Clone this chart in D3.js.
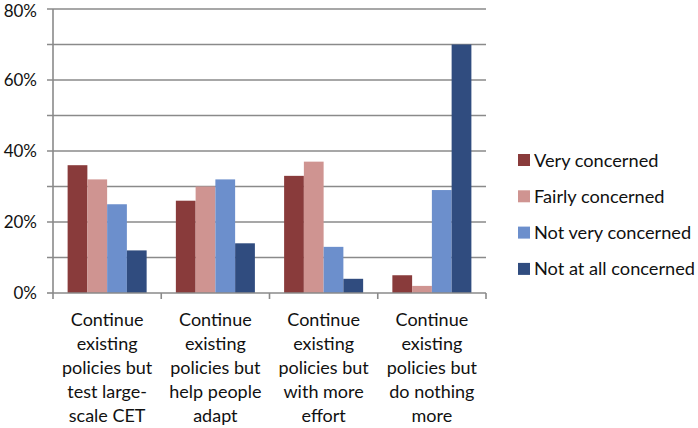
<!DOCTYPE html>
<html><head><meta charset="utf-8">
<script src="https://cdnjs.cloudflare.com/ajax/libs/d3/7.8.5/d3.min.js"></script>
<style>body{margin:0;background:#fff;}svg{display:block;}text{font-family:Lato,"Open Sans",sans-serif;fill:#111;}</style>
</head><body><svg id="c" width="698" height="428"></svg>
<script>
const categories = [
  ["Continue","existing","policies but","test large-","scale CET"],
  ["Continue","existing","policies but","help people","adapt"],
  ["Continue","existing","policies but","with more","effort"],
  ["Continue","existing","policies but","do nothing","more"]
];
const seriesNames = ["Very concerned","Fairly concerned","Not very concerned","Not at all concerned"];
const veryConcerned = [36, 26, 33, 5];
const fairlyConcerned = [32, 30, 37, 2];
const notVeryConcerned = [25, 32, 13, 29];
const notAtAllConcerned = [12, 14, 4, 70];
const yTicks = [0, 20, 40, 60, 80];
const colors = ["#893b3b","#cf9491","#6c8fcc","#304c7f"];

const series = [veryConcerned, fairlyConcerned, notVeryConcerned, notAtAllConcerned];
const svg = d3.select("#c");
const L = 53, R = 486, T = 9, B = 293;
const idx = d3.range(categories.length);
const x0 = d3.scaleBand().domain(idx).range([L, R]).paddingInner(0.27).paddingOuter(0.135);
const x1 = d3.scaleBand().domain(d3.range(series.length)).range([0, x0.bandwidth()]);
const y = d3.scaleLinear().domain([0, 80]).range([B, T]);

// gridlines every 10%
const grid = d3.range(10, 81, 10);
svg.append("g").selectAll("line").data(grid).join("line")
  .attr("x1", L - 6).attr("x2", R).attr("y1", d => y(d)).attr("y2", d => y(d))
  .attr("stroke", "#8a8a8a").attr("stroke-width", 1.6);

// bars
const g = svg.append("g");
idx.forEach(i => {
  series.forEach((s, j) => {
    g.append("rect")
      .attr("x", x0(i) + x1(j)).attr("width", x1.bandwidth())
      .attr("y", y(s[i])).attr("height", B - y(s[i]))
      .attr("fill", colors[j]);
  });
});

// y axis
const ya = d3.axisLeft(y).tickValues(yTicks).tickFormat(d => d + "%").tickSize(0).tickPadding(16);
const yg = svg.append("g").attr("transform", `translate(${L},0)`).call(ya);
yg.select(".domain").remove();
yg.selectAll("text").style("font-size", "17px").attr("fill", "#111")
  .attr("dy", d => d === 80 ? "0.45em" : "0.32em");
svg.append("line").attr("x1", L).attr("x2", L).attr("y1", T).attr("y2", B).attr("stroke", "#8a8a8a").attr("stroke-width", 1.6);
svg.append("line").attr("x1", L - 6).attr("x2", L).attr("y1", B).attr("y2", B).attr("stroke", "#8a8a8a").attr("stroke-width", 1.6);

// x axis
svg.append("line").attr("x1", L).attr("x2", R).attr("y1", B).attr("y2", B).attr("stroke", "#8a8a8a").attr("stroke-width", 1.6);
const bounds = idx.map(i => x0(i) - x0.step() * 0.135).concat([R]);
svg.append("g").selectAll("line").data(bounds).join("line")
  .attr("x1", d => d).attr("x2", d => d).attr("y1", B).attr("y2", B + 6)
  .attr("stroke", "#8a8a8a").attr("stroke-width", 1.6);

const lab = svg.append("g");
idx.forEach(i => {
  const cx = x0(i) + x0.bandwidth() / 2;
  categories[i].forEach((t, k) => {
    lab.append("text").attr("x", cx).attr("y", 326 + k * 24)
      .attr("text-anchor", "middle").style("font-size", "18px").text(t);
  });
});

// legend
const lg = svg.append("g");
seriesNames.forEach((n, j) => {
  const cy = 160 + j * 36.3;
  lg.append("rect").attr("x", 518).attr("y", cy - 6).attr("width", 12).attr("height", 12).attr("fill", colors[j]);
  lg.append("text").attr("x", 534).attr("y", cy + 6.5).style("font-size", "18.2px").text(n);
});
</script></body></html>
